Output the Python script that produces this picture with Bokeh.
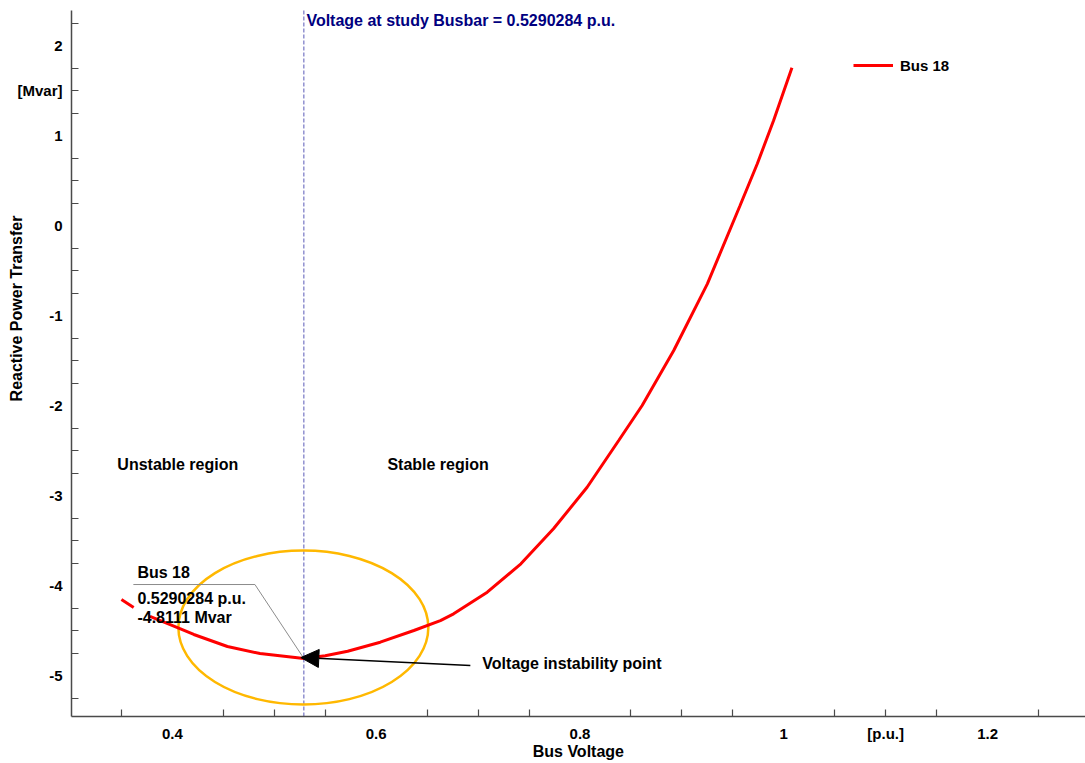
import math
from bokeh.plotting import figure
from bokeh.models import (Label, Arrow, NormalHead, FixedTicker, Legend,
                          LegendItem, ColumnDataSource)
from bokeh.embed import file_html
from bokeh.resources import INLINE

# Q-V curve of the study busbar (voltage in p.u., reactive power in Mvar)
voltage = [0.350, 0.362, math.nan, 0.378, 0.405, 0.421, 0.454, 0.486, 0.5290284,
           0.550, 0.572, 0.604, 0.637, 0.663, 0.676, 0.709, 0.742, 0.774, 0.807,
           0.838, 0.861, 0.892, 0.925, 0.957, 0.974, 0.990, 1.008]
reactive = [-4.156, -4.244, math.nan, -4.344, -4.467, -4.544, -4.678, -4.756, -4.8111,
            -4.78, -4.73, -4.63, -4.50, -4.39, -4.315, -4.074, -3.759, -3.370, -2.908,
            -2.389, -2.0, -1.389, -0.648, 0.22, 0.686, 1.167, 1.752]

series_name = "Bus 18"
v_crit = 0.5290284
q_crit = -4.8111

x_major = [0.4, 0.6, 0.8, 1.0, 1.1, 1.2]
x_labels = ["0.4", "0.6", "0.8", "1", "[p.u.]", "1.2"]
x_minor = [0.35, 0.45, 0.5, 0.55, 0.65, 0.7, 0.75, 0.85, 0.9, 0.95, 1.05, 1.1, 1.15, 1.25]
y_major = [-5, -4, -3, -2, -1, 0, 1, 1.5, 2]
y_labels = ["-5", "-4", "-3", "-2", "-1", "0", "1", "[Mvar]", "2"]
y_minor = [-5.25, -4.75, -4.5, -4.25, -3.75, -3.5, -3.25, -2.75, -2.5, -2.25,
           -1.75, -1.5, -1.25, -0.75, -0.5, -0.25, 0.25, 0.5, 0.75, 1.25, 1.5,
           1.75, 2.25]

# axis extents (data units); the plot area spans the whole canvas so the
# axis titles can sit beside the axes
X_MIN, X_MAX = 0.301, 1.296
Y_MIN, Y_MAX = -5.4554, 2.389

FONT = "Liberation Sans"
AXIS_COLOR = "#4a4a4a"

p = figure(width=1085, height=763, output_backend="svg", toolbar_location=None,
           x_range=(0.23132, 1.29609), y_range=(-5.9777, 2.5001),
           min_border=0, min_border_left=0, min_border_right=0,
           min_border_top=0, min_border_bottom=0)
p.outline_line_color = None
p.xgrid.visible = False
p.ygrid.visible = False

# axes
p.xaxis.fixed_location = Y_MIN
p.xaxis.bounds = (X_MIN, X_MAX)
p.yaxis.fixed_location = X_MIN
p.yaxis.bounds = (Y_MIN, Y_MAX)
for ax, major, labels, minor in ((p.xaxis[0], x_major, x_labels, x_minor),
                                 (p.yaxis[0], y_major, y_labels, y_minor)):
    ax.ticker = FixedTicker(ticks=major, minor_ticks=minor)
    ax.major_label_overrides = {t: s for t, s in zip(major, labels)}
    ax.major_tick_in = 0
    ax.major_tick_out = 0
    ax.minor_tick_in = 7
    ax.minor_tick_out = 0
    ax.axis_line_color = AXIS_COLOR
    ax.axis_line_width = 1.5
    ax.minor_tick_line_color = AXIS_COLOR
    ax.minor_tick_line_width = 1.2
    ax.major_label_text_font = FONT
    ax.major_label_text_font_style = "bold"
    ax.major_label_text_font_size = "15px"
    ax.major_label_text_color = "black"
p.xaxis.major_label_standoff = 9
p.yaxis.major_label_standoff = 9


def text(x, y, s, size="16px", color="black", align="left", angle=0):
    p.add_layout(Label(x=x, y=y, text=s, angle=angle, text_align=align,
                       text_baseline="middle", text_font=FONT, text_font_style="bold",
                       text_font_size=size, text_color=color))


# axis titles
text(0.7984, -5.844, "Bus Voltage", align="center")
text(0.2469, -0.922, "Reactive Power Transfer", align="center", angle=math.pi / 2)

# critical-voltage marker
p.segment(x0=[v_crit], y0=[Y_MIN], x1=[v_crit], y1=[Y_MAX], line_color="#5a5ab8",
          line_dash="4 2", line_width=1)
text(v_crit + 0.0025, 2.278, f"Voltage at study Busbar = {v_crit} p.u.", color="#000080")

# highlight around the nose of the curve
p.ellipse(x=[v_crit - 0.0005], y=[-4.467], width=0.2453, height=1.711,
          fill_alpha=0, line_color="#FFB800", line_width=2.5)

# curve
src = ColumnDataSource(dict(v=voltage, q=reactive))
curve = p.line("v", "q", source=src, line_color="#FF0000", line_width=3)

legend = Legend(items=[LegendItem(label=series_name, renderers=[curve])],
                location=(853, 688), padding=0, margin=0, spacing=0,
                glyph_width=40, glyph_height=20, label_standoff=7,
                label_text_font=FONT, label_text_font_style="bold",
                label_text_font_size="15px", label_text_color="black",
                border_line_color=None, background_fill_alpha=0)
p.add_layout(legend)

# value callout at the critical point
p.line(x=[0.3617, 0.4810, v_crit], y=[-3.989, -3.989, q_crit],
       line_color="#8c8c8c", line_width=1)
text(0.3657, -3.856, series_name)
text(0.3657, -4.144, f"{v_crit} p.u.")
text(0.3657, -4.356, f"{q_crit} Mvar")

# arrow to the voltage instability point
p.add_layout(Arrow(end=NormalHead(size=18, fill_color="black", line_color="black"),
                   x_start=0.6924, y_start=-4.889, x_end=v_crit - 0.003, y_end=q_crit + 0.01,
                   line_color="black", line_width=1.5))
text(0.7042, -4.867, "Voltage instability point")

# region labels
text(0.346, -2.656, "Unstable region")
text(0.611, -2.656, "Stable region")

open("out.html", "w").write(file_html(p, INLINE))
